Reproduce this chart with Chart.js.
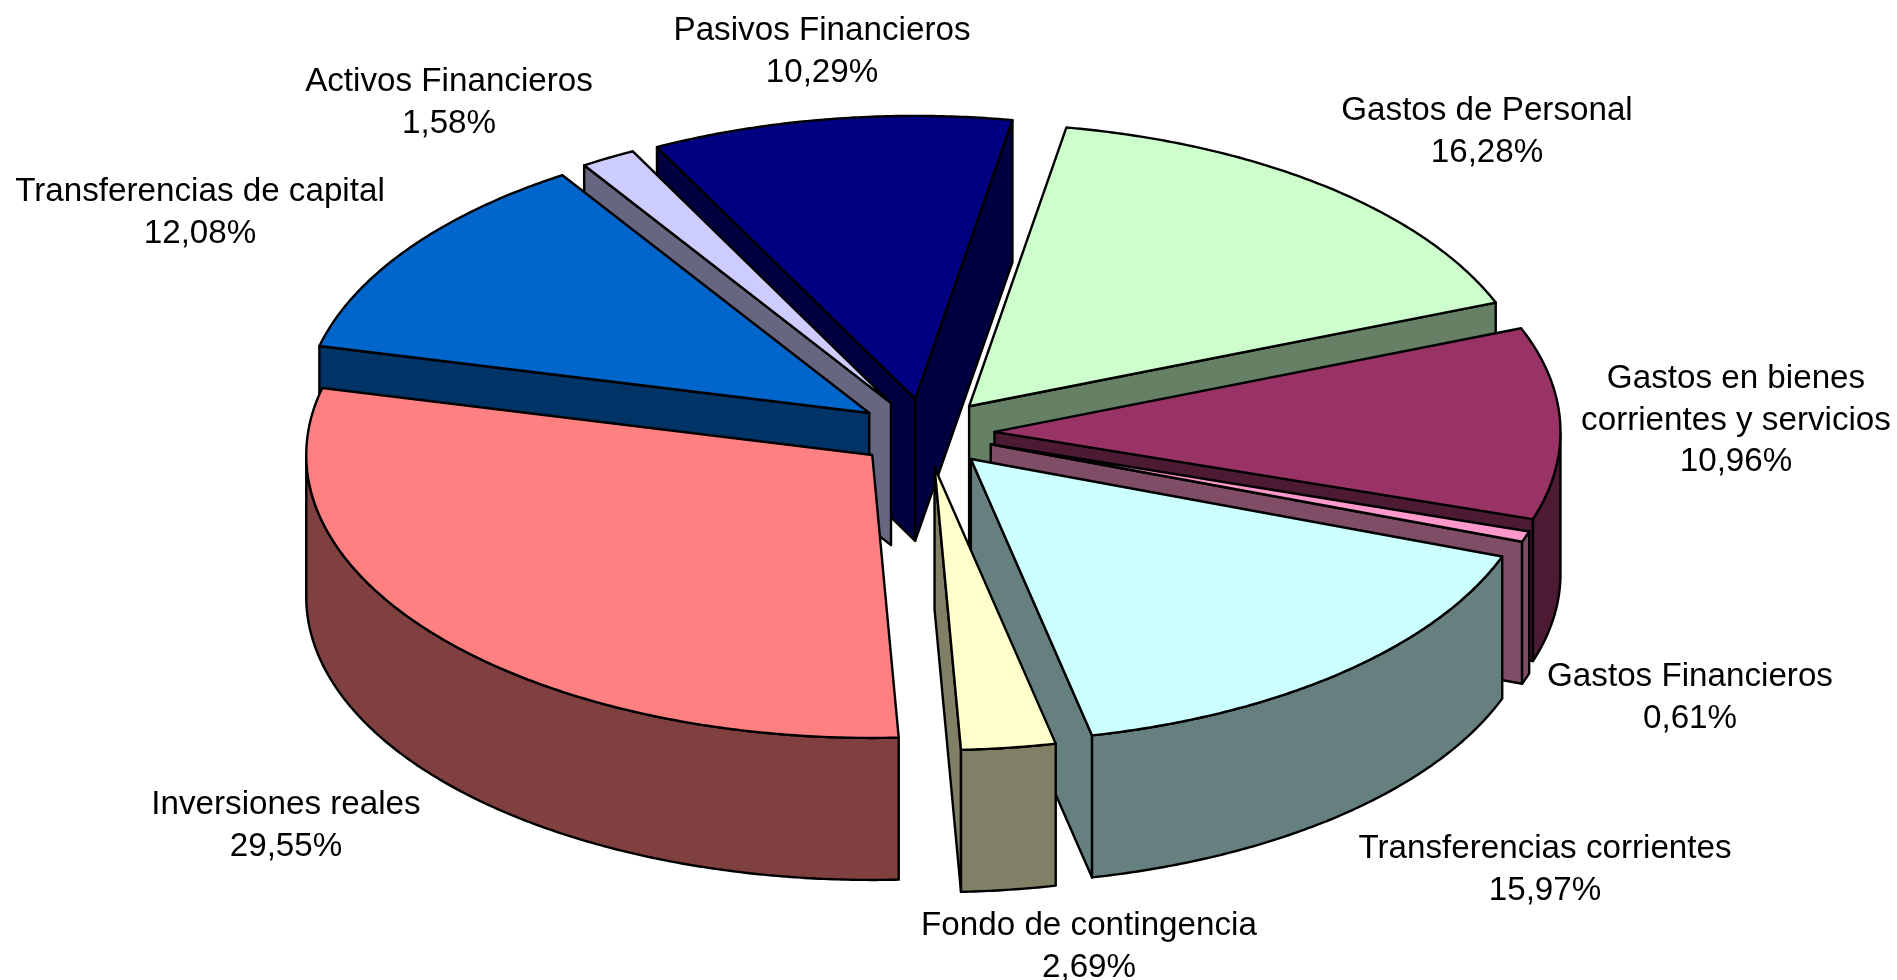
<!DOCTYPE html>
<html lang="es">
<head>
<meta charset="utf-8">
<title>Gastos</title>
<style>html,body{margin:0;padding:0;background:#fff}canvas{display:block}</style>
<script src="https://cdn.jsdelivr.net/npm/chart.js@4/dist/chart.umd.min.js"></script>
</head>
<body>
<canvas id="c" width="1897" height="980"></canvas>
<script>
const categories = ['Gastos de Personal','Gastos en bienes\ncorrientes y servicios','Gastos Financieros','Transferencias corrientes','Fondo de contingencia','Inversiones reales','Transferencias de capital','Activos Financieros','Pasivos Financieros'];
const percentages = [16.28,10.96,0.61,15.97,2.69,29.55,12.08,1.58,10.29];
const topColors = ['#CCFFCC','#993366','#FF99CC','#CCFFFF','#FFFFCC','#FF8080','#0066CC','#CCCCFF','#000080'];
const wallColors = ['#668066','#4D1A33','#804D66','#668080','#808066','#804040','#003366','#666680','#000040'];
const labelCenters = [1487,1736,1690,1545,1089,286,200,449,822];
const labelBaselines = [120,388,686,858,935,814,201,91,40];

const view = {cx:925.5, cy:433, squash:0.5, depth:142, explode:69, line:2.4, rotation:9.9, radius:566};

const pie3d = {
  id:'pie3d',
  beforeDatasetDraw(chart, args){
    const ctx = chart.ctx, arcs = args.meta.data, R = args.meta.controller.outerRadius;
    const lx = arcs[0].x, ly = arcs[0].y;
    const sx = p => p[0] - lx + view.cx;
    const sy = p => view.cy + (p[1] - ly) * view.squash;
    const order = arcs.map((a,i)=>i).sort((i,j)=>
      Math.sin((arcs[i].startAngle+arcs[i].endAngle)/2) - Math.sin((arcs[j].startAngle+arcs[j].endAngle)/2));
    const poly = (pts, fill) => {
      ctx.beginPath();
      pts.forEach((p,n)=> n ? ctx.lineTo(p[0],p[1]) : ctx.moveTo(p[0],p[1]));
      ctx.closePath();
      if (fill) { ctx.fillStyle = fill; ctx.fill(); }
      ctx.stroke();
    };
    ctx.save();
    ctx.strokeStyle = '#000'; ctx.lineWidth = view.line; ctx.lineJoin = 'round';
    order.forEach(i => {
      const arc = arcs[i], a0 = arc.startAngle, a1 = arc.endAngle, mid = (a0+a1)/2;
      const off = (arc.options.offset||0)/4;
      const ox = arc.x + Math.cos(mid)*off, oy = arc.y + Math.sin(mid)*off;
      const at = (a,d=0) => { const p=[ox+Math.cos(a)*R, oy+Math.sin(a)*R]; return [sx(p), sy(p)+d]; };
      const tip = [sx([ox,oy]), sy([ox,oy])];
      const D = view.depth, col = wallColors[i];
      const tipD = [tip[0], tip[1]+D];
      if (Math.cos(a0) < 0) poly([tip, at(a0), at(a0,D), tipD], col);
      if (Math.cos(a1) > 0) poly([tip, at(a1), at(a1,D), tipD], col);
      [0, Math.PI*2].forEach(k => {
        const s = Math.max(a0, k), e = Math.min(a1, k+Math.PI);
        if (e <= s) return;
        const pts = [], n = Math.ceil((e-s)*120);
        for (let m=0;m<=n;m++) pts.push(at(s+(e-s)*m/n));
        for (let m=n;m>=0;m--) pts.push(at(s+(e-s)*m/n,D));
        poly(pts, col);
      });
      // top face: the library's own arc element, under the tilt transform.
      // The element enlarges its radius and trims its angle when offset; undo both here.
      const radiusFix = off * (1 - Math.sin(Math.min(Math.PI, a1-a0)));
      const trim = radiusFix / (Math.PI * R) / 2;
      arc.outerRadius = R - radiusFix;
      arc.startAngle = a0 - trim;
      arc.endAngle = a1 + trim;
      ctx.save();
      ctx.translate(view.cx, view.cy);
      ctx.scale(1, view.squash);
      ctx.translate(-lx, -ly);
      arc.draw(ctx, chart.chartArea);
      ctx.restore();
      arc.outerRadius = R; arc.startAngle = a0; arc.endAngle = a1;
      ctx.beginPath();
      ctx.moveTo(tip[0], tip[1]);
      const n = Math.ceil((a1-a0)*120);
      for (let m=0;m<=n;m++){ const p = at(a0+(a1-a0)*m/n); ctx.lineTo(p[0],p[1]); }
      ctx.closePath();
      ctx.stroke();
    });
    ctx.restore();
    return false;
  },
  afterDraw(chart){
    const ctx = chart.ctx;
    ctx.save();
    ctx.font = '33.2px "Liberation Sans", Arial, sans-serif';
    ctx.fillStyle = '#000'; ctx.textAlign = 'center'; ctx.textBaseline = 'alphabetic';
    categories.forEach((c,i)=>{
      const lines = c.split('\n').concat(percentages[i].toFixed(2).replace('.',',')+'%');
      lines.forEach((t,n)=> ctx.fillText(t, labelCenters[i], labelBaselines[i] + n*41.5));
    });
    ctx.restore();
  }
};

new Chart(document.getElementById('c'), {
  type:'pie',
  data:{ labels:categories, datasets:[{ data:percentages, backgroundColor:topColors, borderWidth:0, offset:view.explode*4, hoverOffset:0 }] },
  options:{
    responsive:false, animation:false, rotation:view.rotation, radius:view.radius,
    layout:{padding:0}, events:[],
    plugins:{legend:{display:false}, tooltip:{enabled:false}, title:{display:false}}
  },
  plugins:[pie3d]
});
</script>
</body>
</html>
